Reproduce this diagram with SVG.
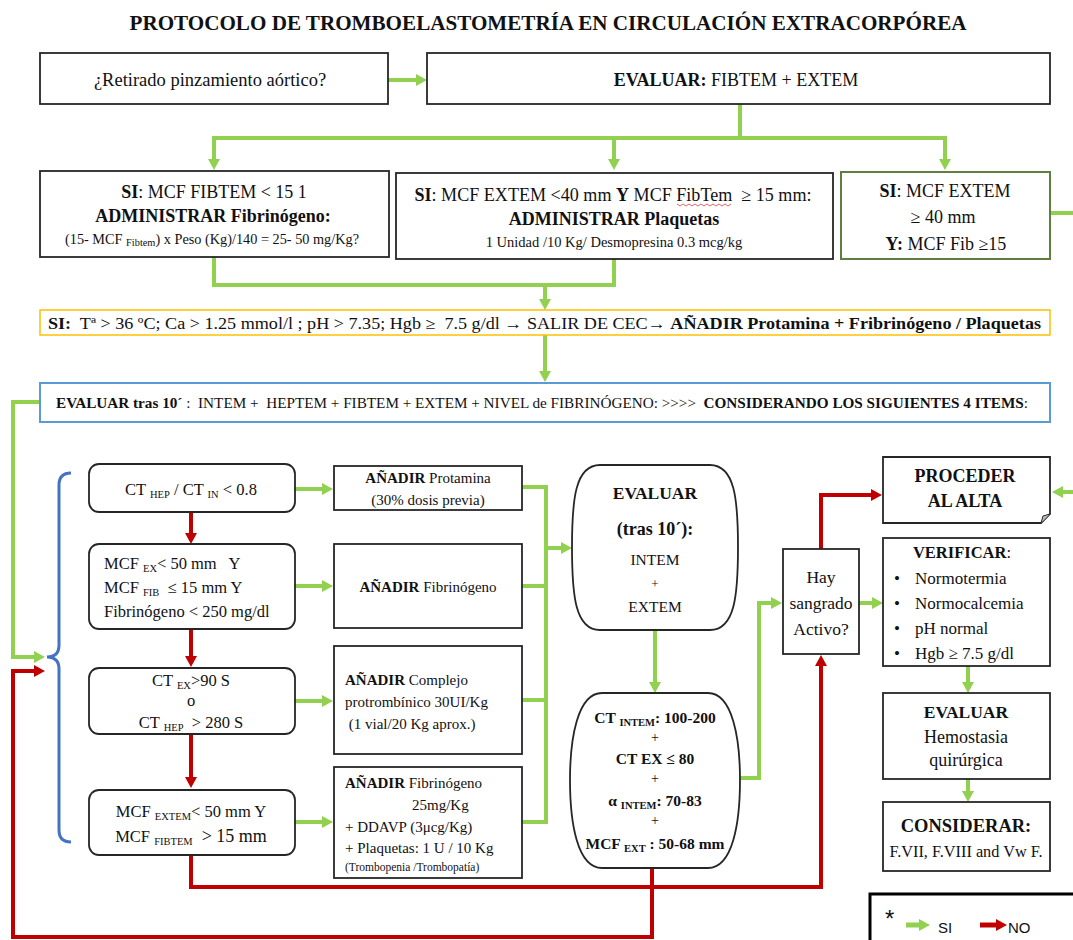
<svg xmlns="http://www.w3.org/2000/svg" width="1073" height="940" viewBox="0 0 1073 940">
<defs>
<style>
text{font-family:"Liberation Serif","Times New Roman",serif;fill:#111;white-space:pre}
.b{font-weight:bold}
.c{text-anchor:middle}
.sub{font-size:10.5px}
.box{fill:#fff;stroke:#262626;stroke-width:1.8}
.g{fill:none;stroke:#92d050;stroke-width:4}
.r{fill:none;stroke:#c00000;stroke-width:4}
.ga{marker-end:url(#ag)}
.ra{marker-end:url(#ar)}
.sans{font-family:"Liberation Sans",Arial,sans-serif}
</style>
<marker id="ag" markerUnits="userSpaceOnUse" markerWidth="12" markerHeight="12" refX="2" refY="6" orient="auto"><path d="M0,0 L11,6 L0,12 Z" fill="#92d050"/></marker>
<marker id="ar" markerUnits="userSpaceOnUse" markerWidth="12" markerHeight="12" refX="2" refY="6" orient="auto"><path d="M0,0 L11,6 L0,12 Z" fill="#c00000"/></marker>
</defs>
<rect width="1073" height="940" fill="#fff"/>

<text id="title" x="548" y="30" class="b c" font-size="22" textLength="837" lengthAdjust="spacingAndGlyphs">PROTOCOLO DE TROMBOELASTOMETRÍA EN CIRCULACIÓN EXTRACORPÓREA</text>

<g id="connectors">
  <path class="g ga" d="M388,80 H418"/>
  <path class="g" d="M740,104 V138"/>
  <path class="g" d="M212,138 H947"/>
  <path class="g ga" d="M214,138 V161"/>
  <path class="g ga" d="M614,138 V161"/>
  <path class="g ga" d="M945,138 V161"/>
  <path class="g" d="M1050,213 H1073"/>
  <path class="g" d="M214,257 V285 H614 V259"/>
  <path class="g ga" d="M545,285 V301"/>
  <path class="g ga" d="M545,335 V373"/>
  <path class="g ga" d="M40,402 H13 V657 H36"/>
  <path class="g ga" d="M295,489 H324"/>
  <path class="g ga" d="M295,586 H324"/>
  <path class="g ga" d="M295,701 H324"/>
  <path class="g ga" d="M295,822 H324"/>
  <path class="g" d="M522,487 H546 M522,586 H546 M522,700 H546 M522,822 H546"/>
  <path class="g" d="M546,485 V824"/>
  <path class="g ga" d="M546,548 H563"/>
  <path class="g ga" d="M655,630 V684"/>
  <path class="g ga" d="M739,778 H759 V603 H773"/>
  <path class="g ga" d="M859,603 H874"/>
  <path class="g ga" d="M1073,492 H1061"/>
  <path class="g ga" d="M968,666 V684"/>
  <path class="g ga" d="M968,779 V793"/>
  <path class="r ra" d="M191,512 V535"/>
  <path class="r ra" d="M191,629 V658"/>
  <path class="r ra" d="M191,734 V779"/>
  <path class="r ra" d="M191,855 V887 H821 V664"/>
  <path class="r ra" d="M652,868 V937 H13 V671 H36"/>
  <path class="r ra" d="M821,549 V495 H873"/>
</g>

<g id="brace">
  <path d="M71,473 Q59,473 59,485 V645 Q59,657 47,657 Q59,657 59,669 V830 Q59,842 71,842" fill="none" stroke="#4472c4" stroke-width="3"/>
</g>

<g id="n-retirado">
  <rect class="box" x="40" y="53" width="348" height="51"/>
  <text x="210" y="86" class="c" font-size="18.5">¿Retirado pinzamiento aórtico?</text>
</g>

<g id="n-evaluar1">
  <rect class="box" x="427" y="53" width="623" height="51"/>
  <text x="736" y="86" class="c" font-size="18"><tspan class="b">EVALUAR:</tspan> FIBTEM + EXTEM</text>
</g>

<g id="n-fibrinogeno">
  <rect class="box" x="40" y="171" width="349" height="86"/>
  <text x="214" y="198" class="c" font-size="18"><tspan class="b">SI</tspan>: MCF FIBTEM &lt; 15 1</text>
  <text x="213" y="222" class="c b" font-size="18">ADMINISTRAR Fibrinógeno:</text>
  <text x="212" y="244" class="c" font-size="14.5" textLength="294" lengthAdjust="spacingAndGlyphs">(15- MCF <tspan class="sub" font-size="9" dy="2">Fibtem</tspan><tspan dy="-2">) x Peso (Kg)/140 = 25- 50 mg/Kg?</tspan></text>
</g>

<g id="n-plaquetas">
  <rect class="box" x="396" y="173" width="437" height="86"/>
  <text x="613" y="201" class="c" font-size="18" textLength="397" lengthAdjust="spacingAndGlyphs"><tspan class="b">SI</tspan>: MCF EXTEM &lt;40 mm <tspan class="b">Y</tspan> MCF FibTem  ≥ 15 mm:</text>
  <polyline points="677,204 680,206 683,204 686,206 689,204 692,206 695,204 698,206 701,204 704,206 707,204 710,206 713,204 716,206 719,204 722,206 725,204 728,206 731,204" fill="none" stroke="#d04040" stroke-width="0.8"/>
  <text x="614" y="225" class="c b" font-size="18">ADMINISTRAR Plaquetas</text>
  <text x="614" y="247" class="c" font-size="14.5">1 Unidad /10 Kg/ Desmopresina 0.3 mcg/kg</text>
</g>

<g id="n-extem40">
  <rect x="841" y="172" width="209" height="87" fill="#fff" stroke="#5e7f3f" stroke-width="2"/>
  <text x="945" y="197" class="c" font-size="18"><tspan class="b">SI</tspan>: MCF EXTEM</text>
  <text x="943" y="223" class="c" font-size="18">≥ 40 mm</text>
  <text x="946" y="250" class="c" font-size="18"><tspan class="b">Y:</tspan> MCF Fib ≥15</text>
</g>

<g id="n-salir">
  <rect x="40" y="310" width="1010" height="25" fill="#fff" stroke="#ffc000" stroke-width="1.5"/>
  <text x="48" y="329" font-size="16" textLength="993" lengthAdjust="spacingAndGlyphs"><tspan class="b">SI:</tspan>  Tª &gt; 36 ºC; Ca &gt; 1.25 mmol/l ; pH &gt; 7.35; Hgb ≥  7.5 g/dl → SALIR DE CEC→ <tspan class="b">AÑADIR Protamina + Fribrinógeno / Plaquetas</tspan></text>
</g>

<g id="n-evaluar10">
  <rect x="40" y="383" width="1010" height="39" fill="#fff" stroke="#5b9bd5" stroke-width="2"/>
  <text x="56" y="408" font-size="14.5" textLength="972" lengthAdjust="spacingAndGlyphs"><tspan class="b">EVALUAR tras 10´</tspan> :  INTEM +  HEPTEM + FIBTEM + EXTEM + NIVEL de FIBRINÓGENO: &gt;&gt;&gt;&gt;  <tspan class="b">CONSIDERANDO LOS SIGUIENTES 4 ITEMS</tspan>:</text>
</g>

<g id="n-cthep">
  <rect class="box" x="89" y="464" width="206" height="48" rx="10"/>
  <text x="191" y="495" class="c" font-size="16.5">CT <tspan class="sub" dy="3">HEP</tspan><tspan dy="-3"> / CT </tspan><tspan class="sub" dy="3">IN</tspan><tspan dy="-3"> &lt; 0.8</tspan></text>
</g>

<g id="n-mcfex">
  <rect class="box" x="89" y="544" width="206" height="85" rx="10"/>
  <text x="104" y="569" font-size="16.5">MCF <tspan class="sub" dy="3">EX</tspan><tspan dy="-3">&lt; 50 mm   Y</tspan></text>
  <text x="104" y="593" font-size="16.5">MCF <tspan class="sub" dy="3">FIB</tspan><tspan dy="-3">  ≤ 15 mm Y</tspan></text>
  <text x="104" y="617" font-size="16.5">Fibrinógeno &lt; 250 mg/dl</text>
</g>

<g id="n-ctex">
  <rect class="box" x="89" y="668" width="206" height="66" rx="10"/>
  <text x="191" y="686" class="c" font-size="16.5">CT <tspan class="sub" dy="3">EX</tspan><tspan dy="-3">&gt;90 S</tspan></text>
  <text x="191" y="706" class="c" font-size="16.5">o</text>
  <text x="191" y="728" class="c" font-size="16.5">CT <tspan class="sub" dy="3">HEP</tspan><tspan dy="-3">  &gt; 280 S</tspan></text>
</g>

<g id="n-mcfextem">
  <rect class="box" x="89" y="790" width="206" height="65" rx="10"/>
  <text x="191" y="817" class="c" font-size="16.5">MCF <tspan class="sub" dy="3">EXTEM</tspan><tspan dy="-3">&lt; 50 mm Y</tspan></text>
  <text x="191" y="842" class="c" font-size="16.5">MCF <tspan class="sub" dy="3">FIBTEM</tspan><tspan dy="-3" font-size="18">  &gt; 15 mm</tspan></text>
</g>

<g id="n-protamina">
  <rect class="box" x="334" y="466" width="188" height="44"/>
  <text x="428" y="483" class="c" font-size="15"><tspan class="b">AÑADIR</tspan> Protamina</text>
  <text x="428" y="505" class="c" font-size="15">(30% dosis previa)</text>
</g>

<g id="n-addfib">
  <rect class="box" x="334" y="544" width="188" height="84"/>
  <text x="428" y="592" class="c" font-size="15"><tspan class="b">AÑADIR</tspan> Fibrinógeno</text>
</g>

<g id="n-complejo">
  <rect class="box" x="334" y="646" width="188" height="108"/>
  <text x="345" y="685" font-size="15"><tspan class="b">AÑADIR</tspan> Complejo</text>
  <text x="345" y="707" font-size="15">protrombínico 30UI/Kg</text>
  <text x="345" y="729" font-size="15"> (1 vial/20 Kg aprox.)</text>
</g>

<g id="n-fibddavp">
  <rect class="box" x="334" y="767" width="188" height="111"/>
  <text x="345" y="788" font-size="15"><tspan class="b">AÑADIR</tspan> Fibrinógeno</text>
  <text x="412" y="810" font-size="15">25mg/Kg</text>
  <text x="345" y="832" font-size="15">+ DDAVP (3μcg/Kg)</text>
  <text x="345" y="853" font-size="15">+ Plaquetas: 1 U / 10 Kg</text>
  <text x="345" y="871" font-size="11.5">(Trombopenia /Trombopatía)</text>
</g>

<g id="n-evaluar-tras">
  <path class="box" d="M600,465 H710 C735,465 738,500 738,547 C738,595 735,630 710,630 H600 C575,630 572,595 572,547 C572,500 575,465 600,465 Z"/>
  <text x="655" y="499" class="c b" font-size="17.5">EVALUAR</text>
  <text x="655" y="535" class="c b" font-size="18">(tras 10´):</text>
  <text x="655" y="565" class="c" font-size="15.5">INTEM</text>
  <text x="655" y="588" class="c" font-size="13">+</text>
  <text x="655" y="612" class="c" font-size="15.5">EXTEM</text>
</g>

<g id="n-valores">
  <path class="box" d="M602,693 H708 C733,693 740,740 740,780 C740,822 733,868 708,868 H602 C577,868 570,822 570,780 C570,740 577,693 602,693 Z"/>
  <text x="655" y="723" class="c b" font-size="15.5">CT <tspan class="sub" dy="3">INTEM</tspan><tspan dy="-3">: 100-200</tspan></text>
  <text x="655" y="742" class="c" font-size="14">+</text>
  <text x="655" y="764" class="c b" font-size="15.5">CT EX ≤ 80</text>
  <text x="655" y="783" class="c" font-size="14">+</text>
  <text x="655" y="806" class="c b" font-size="15.5">α <tspan class="sub" dy="3">INTEM</tspan><tspan dy="-3">: 70-83</tspan></text>
  <text x="655" y="825" class="c" font-size="14">+</text>
  <text x="655" y="849" class="c b" font-size="15.5">MCF <tspan class="sub" dy="3">EXT</tspan><tspan dy="-3"> : 50-68 mm</tspan></text>
</g>

<g id="n-sangrado">
  <rect class="box" x="783" y="549" width="76" height="105"/>
  <text x="821" y="583" class="c" font-size="17.5">Hay</text>
  <text x="821" y="609" class="c" font-size="17.5">sangrado</text>
  <text x="821" y="635" class="c" font-size="17.5">Activo?</text>
</g>

<g id="n-alta">
  <path class="box" d="M883,457 H1050 V514 L1041,523 H883 Z"/>
  <path d="M1041,523 L1043,516 L1050,514" fill="#bbb" stroke="#262626" stroke-width="1"/>
  <text x="965" y="482" class="c b" font-size="18">PROCEDER</text>
  <text x="965" y="507" class="c b" font-size="18">AL ALTA</text>
</g>

<g id="n-verificar">
  <rect class="box" x="883" y="538" width="167" height="128"/>
  <text x="962" y="558" class="c" font-size="16.5"><tspan class="b">VERIFICAR</tspan>:</text>
  <text x="894" y="584" font-size="17">•</text>
  <text x="915" y="584" font-size="17">Normotermia</text>
  <text x="894" y="609" font-size="17">•</text>
  <text x="915" y="609" font-size="17">Normocalcemia</text>
  <text x="894" y="634" font-size="17">•</text>
  <text x="915" y="634" font-size="17">pH normal</text>
  <text x="894" y="659" font-size="17">•</text>
  <text x="915" y="659" font-size="17">Hgb ≥ 7.5 g/dl</text>
</g>

<g id="n-hemostasia">
  <rect class="box" x="883" y="693" width="167" height="86"/>
  <text x="966" y="718" class="c b" font-size="17.5">EVALUAR</text>
  <text x="966" y="743" class="c" font-size="18">Hemostasia</text>
  <text x="966" y="766" class="c" font-size="18">quirúrgica</text>
</g>

<g id="n-considerar">
  <rect class="box" x="883" y="802" width="167" height="69"/>
  <text x="966" y="832" class="c b" font-size="18.5">CONSIDERAR:</text>
  <text x="966" y="857" class="c" font-size="16.3">F.VII, F.VIII and Vw F.</text>
</g>

<g id="legend">
  <rect x="870" y="894" width="215" height="60" fill="#fff" stroke="#000" stroke-width="3"/>
  <text x="885" y="927" class="sans" font-size="24">*</text>
  <path d="M906,925 H921" fill="none" stroke="#92d050" stroke-width="5" marker-end="url(#ag)"/>
  <text x="938" y="933" class="sans" font-size="15">SI</text>
  <path d="M980,925 H998" fill="none" stroke="#c00000" stroke-width="5" marker-end="url(#ar)"/>
  <text x="1008" y="933" class="sans" font-size="15">NO</text>
</g>
</svg>
